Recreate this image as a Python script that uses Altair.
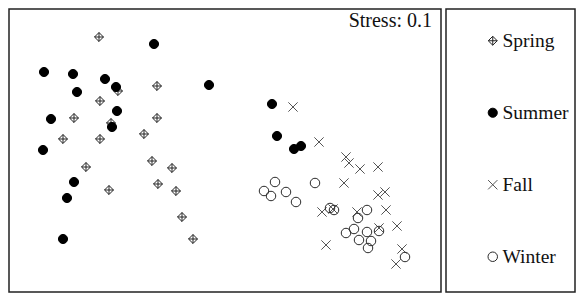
import altair as alt
import pandas as pd

seasons = ["Spring", "Summer", "Fall", "Winter"]

spring_x = [-1.25, -0.67, -1.06, -1.24, -1.50, -0.67, -1.13, -0.80, -1.61, -1.24,
            -1.38, -0.72, -0.52, -0.66, -0.48, -1.15, -0.42, -0.31]
spring_y = [1.13, 0.64, 0.59, 0.49, 0.32, 0.32, 0.27, 0.16, 0.11, 0.11,
            -0.17, -0.11, -0.18, -0.34, -0.41, -0.40, -0.67, -0.89]

summer_x = [-0.70, -1.80, -1.51, -1.19, -1.08, -1.47, -0.15, -1.07, -1.73, -1.12,
            -1.81, -1.50, -1.57, -1.61, 0.48, 0.53, 0.70, 0.77]
summer_y = [1.06, 0.78, 0.76, 0.71, 0.63, 0.58, 0.65, 0.39, 0.31, 0.23,
            0.00, -0.32, -0.48, -0.89, 0.46, 0.14, 0.01, 0.04]

fall_x = [0.69, 0.95, 1.22, 1.25, 1.36, 1.54, 1.20, 1.54, 1.61, 0.98,
          1.33, 1.62, 1.73, 1.55, 1.02, 1.78, 1.72, 1.09]
fall_y = [0.43, 0.08, -0.07, -0.13, -0.19, -0.17, -0.33, -0.45, -0.42, -0.62,
          -0.62, -0.60, -0.76, -0.78, -0.95, -0.99, -1.14, -0.59]

winter_x = [0.51, 0.40, 0.47, 0.62, 0.72, 0.91, 1.06, 1.10, 1.43, 1.34,
            1.22, 1.30, 1.43, 1.55, 1.35, 1.47, 1.44, 1.81]
winter_y = [-0.32, -0.41, -0.46, -0.42, -0.52, -0.33, -0.58, -0.60, -0.60, -0.68,
            -0.83, -0.79, -0.82, -0.81, -0.90, -0.91, -0.98, -1.07]

stress_label = "Stress: 0.1"

rows = []
for name, xs, ys in [("Spring", spring_x, spring_y), ("Summer", summer_x, summer_y),
                     ("Fall", fall_x, fall_y), ("Winter", winter_x, winter_y)]:
    for a, b in zip(xs, ys):
        rows.append({"season": name, "NMDS1": a, "NMDS2": b})
df = pd.DataFrame(rows)

diamond_plus = "M0,-1L1,0L0,1L-1,0Z M0,-1L0,1 M-1,0L1,0"
x_shape = "M-1,-1L1,1 M1,-1L-1,1"

W, H = 432, 283

leg = alt.Legend(
    title=None, orient="none", legendX=474, legendY=22,
    labelFont="Liberation Serif", labelFontSize=19.5, labelColor="#111",
    labelOffset=0, rowPadding=51, symbolStrokeWidth=1, padding=0,
)

points = alt.Chart(df).mark_point(strokeWidth=1, opacity=1).encode(
    x=alt.X("NMDS1:Q", axis=None, scale=alt.Scale(domain=[-2.15, 2.17], nice=False, zero=False)),
    y=alt.Y("NMDS2:Q", axis=None, scale=alt.Scale(domain=[-1.42, 1.41], nice=False, zero=False)),
    shape=alt.Shape("season:N", scale=alt.Scale(domain=seasons, range=[diamond_plus, "circle", x_shape, "circle"]), legend=leg),
    fill=alt.Fill("season:N", scale=alt.Scale(domain=seasons, range=["transparent", "#000000", "transparent", "transparent"]), legend=leg),
    stroke=alt.Stroke("season:N", scale=alt.Scale(domain=seasons, range=["#222222", "#000000", "#555555", "#2a2a2a"]), legend=leg),
    size=alt.Size("season:N", scale=alt.Scale(domain=seasons, range=[80, 90, 100, 70]), legend=leg),
    order=alt.Order("idx:Q"),
).transform_window(idx="row_number()")

stress = alt.Chart(pd.DataFrame({"t": [stress_label]})).mark_text(
    align="right", baseline="alphabetic", font="Liberation Serif", fontSize=20, color="#111"
).encode(text="t:N", x=alt.value(423), y=alt.value(18))

legend_box = alt.Chart(pd.DataFrame({"a": [0]})).mark_rect(
    fill=None, stroke="#222", strokeWidth=1.5
).encode(x=alt.value(437), x2=alt.value(566), y=alt.value(0), y2=alt.value(283))

chart = alt.layer(points, stress, legend_box).properties(
    width=W, height=H,
    autosize=alt.AutoSizeParams(type="none"),
    padding={"left": 1, "top": 1, "right": 136, "bottom": 1},
).configure_view(stroke="#222", strokeWidth=1.5)

chart.save("out.html", embed_options={"renderer": "svg", "actions": False})
